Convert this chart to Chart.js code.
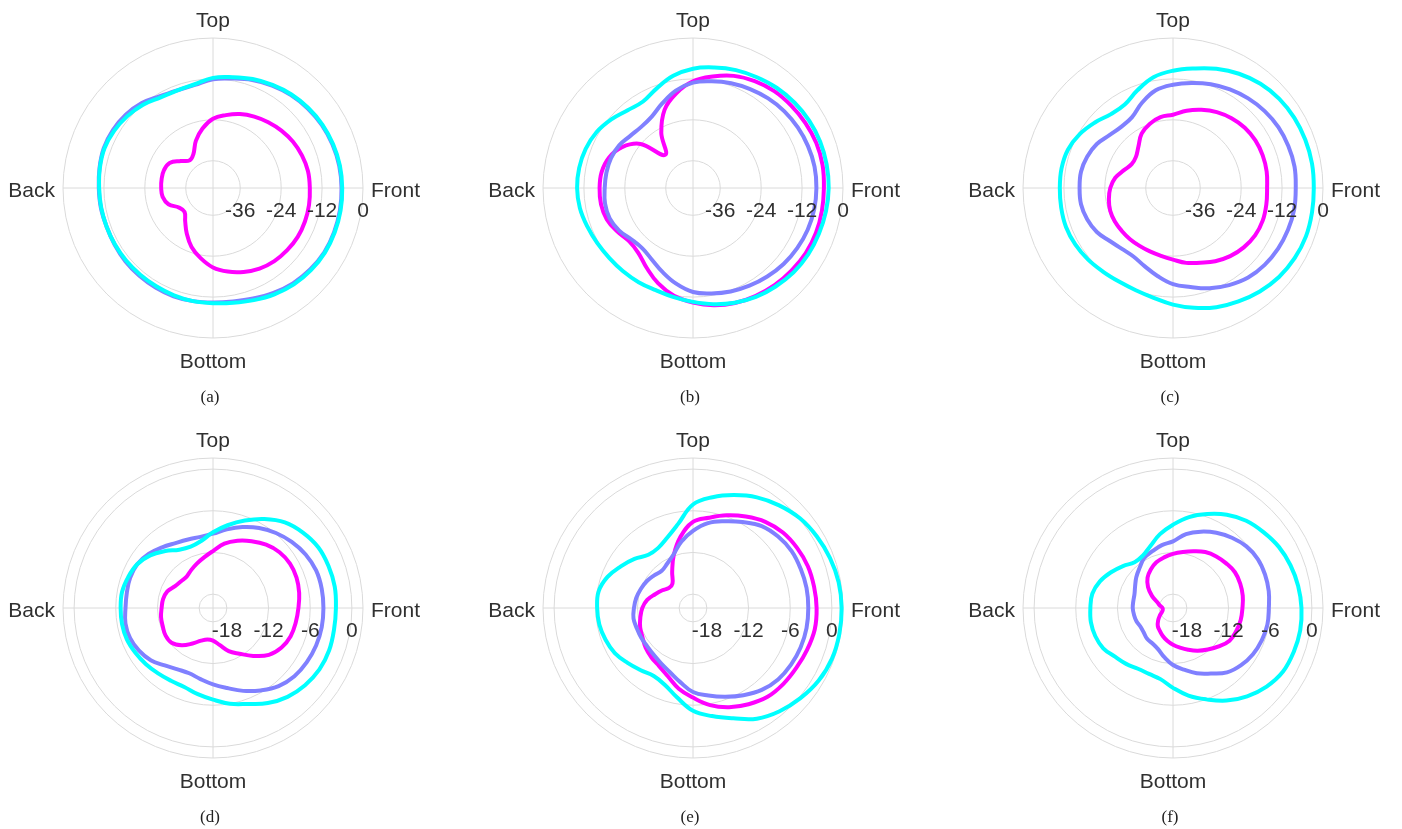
<!DOCTYPE html>
<html>
<head>
<meta charset="utf-8">
<script src="https://cdn.jsdelivr.net/npm/chart.js@4.4.1/dist/chart.umd.min.js"></script>
<style>
  html, body { margin: 0; padding: 0; background: #ffffff; }
  body { width: 1402px; height: 829px; overflow: hidden; position: relative; }
  canvas.polar { position: absolute; }
  .cap { position: absolute; width: 60px; margin-left: -30px; text-align: center;
         font-family: "Liberation Serif", "Times New Roman", serif; font-size: 17px;
         line-height: 20px; color: #222; }
</style>
</head>
<body>
<script>
// ---------------- data ----------------
// angles in degrees, clockwise from "Top"
const angles = [0,10,20,30,40,50,60,70,80,90,100,110,120,130,140,150,160,170,
                180,190,200,210,220,230,240,250,260,270,280,290,300,310,320,330,340,350];
const directionLabels = ['Top', 'Front', 'Bottom', 'Back'];
const captions = ['(a)', '(b)', '(c)', '(d)', '(e)', '(f)'];

// radial ranges (dB) and tick values per row
const row1Range = [-44, 0];
const row1Ticks = [-36, -24, -12, 0];
const row2Range = [-20, 1.6];
const row2Ticks = [-18, -12, -6, 0];

const seriesNames = ['cyan', 'blue', 'magenta'];
const seriesColors = ['#00ffff', '#8080ff', '#ff00ff'];

// (a)
const aCyan = [-11.7,-11.0,-10.0,-9.1,-8.2,-7.5,-6.9,-6.5,-6.2,-6.1,-6.0,-6.0,-6.1,-6.5,-7.1,-8.0,-9.0,-9.8,-10.2,-10.3,-10.5,-10.7,-10.8,-10.8,-10.8,-10.8,-10.7,-10.6,-10.3,-10.1,-10.5,-11.2,-12.1,-13.3,-13.5,-13.1];
const aBlue = [-12.1,-11.4,-10.3,-9.3,-8.4,-7.7,-7.1,-6.7,-6.4,-6.3,-6.2,-6.2,-6.3,-6.8,-7.5,-8.5,-9.5,-10.2,-10.4,-10.3,-10.2,-10.3,-10.4,-10.5,-10.7,-10.8,-10.6,-10.5,-10.2,-9.9,-10.1,-10.6,-11.5,-12.9,-13.5,-13.3];
const aMagenta = [-23.7,-22.3,-20.9,-19.8,-18.8,-17.8,-16.9,-16.2,-15.7,-15.6,-15.4,-15.3,-15.3,-15.6,-16.0,-16.7,-17.8,-19.1,-20.7,-23.1,-25.6,-28.6,-31.3,-33.1,-32.5,-30.1,-29.0,-28.8,-28.7,-28.7,-29.3,-31.7,-33.4,-32.5,-29.3,-26.3];
// (b)
const bCyan = [-9.0,-8.1,-7.2,-6.5,-5.7,-5.1,-4.6,-4.3,-4.2,-4.2,-4.4,-4.7,-5.0,-5.5,-6.3,-7.1,-8.2,-9.4,-10.6,-11.5,-12.1,-12.1,-12.1,-12.0,-11.6,-11.0,-10.3,-10.0,-10.1,-10.5,-11.3,-12.7,-14.2,-14.7,-12.9,-10.6];
const bBlue = [-13.1,-12.2,-11.3,-10.5,-9.7,-9.0,-8.5,-8.1,-7.8,-7.8,-7.9,-8.2,-8.7,-9.3,-10.1,-10.9,-11.7,-12.6,-13.5,-15.5,-17.8,-19.8,-20.9,-20.5,-19.0,-18.0,-17.8,-18.1,-18.2,-18.4,-19.0,-20.1,-20.5,-19.8,-17.6,-15.0];
const bMagenta = [-12.7,-10.8,-9.0,-7.8,-6.9,-6.4,-5.9,-5.5,-5.4,-5.6,-5.6,-5.6,-5.8,-6.3,-6.8,-7.4,-8.1,-9.1,-10.4,-11.9,-14.2,-16.9,-19.1,-19.6,-18.4,-17.1,-16.6,-16.6,-16.8,-17.8,-20.0,-23.9,-31.3,-25.4,-19.6,-15.8];
// (c)
const cCyan = [-9.6,-8.4,-6.8,-5.3,-4.1,-3.3,-2.9,-2.7,-2.6,-2.7,-2.6,-2.5,-2.8,-3.4,-4.4,-5.6,-6.8,-8.3,-9.8,-11.3,-12.1,-12.3,-12.0,-11.4,-10.9,-10.6,-10.7,-10.8,-10.8,-11.2,-12.4,-14.1,-15.7,-15.7,-13.5,-11.0];
const cBlue = [-13.7,-12.7,-11.6,-10.6,-9.7,-8.9,-8.3,-8.0,-7.8,-8.0,-7.9,-8.1,-8.4,-8.9,-9.7,-11.1,-12.7,-14.5,-15.8,-17.8,-19.6,-20.8,-20.7,-19.8,-18.2,-17.2,-16.6,-16.6,-16.6,-17.2,-18.2,-19.8,-20.5,-20.0,-17.4,-14.9];
const cMagenta = [-22.5,-21.0,-19.6,-18.3,-17.3,-16.5,-16.1,-16.0,-16.1,-16.4,-16.2,-16.0,-16.2,-16.9,-17.9,-19.2,-20.7,-21.7,-23.0,-23.8,-24.2,-24.4,-24.4,-24.4,-24.3,-24.4,-24.9,-25.6,-26.8,-28.7,-30.0,-29.8,-28.2,-25.6,-24.0,-22.9];
// (d)
const dCyan = [-9.1,-7.9,-6.6,-5.2,-3.9,-3.1,-2.5,-2.3,-2.2,-2.3,-2.3,-2.2,-2.3,-2.7,-3.3,-4.2,-5.3,-6.0,-6.8,-7.4,-7.9,-7.9,-7.7,-7.4,-7.1,-6.8,-6.7,-6.7,-6.7,-7.0,-7.4,-8.2,-9.3,-10.3,-10.6,-10.2];
const dBlue = [-9.3,-8.5,-7.6,-6.7,-5.9,-5.2,-4.6,-4.2,-4.1,-4.1,-4.1,-4.2,-4.4,-4.7,-5.3,-6.3,-7.3,-8.3,-9.0,-9.6,-10.0,-9.8,-9.2,-8.3,-7.7,-7.3,-7.2,-7.4,-7.4,-7.3,-7.4,-7.9,-8.6,-9.2,-9.5,-9.6];
const dMagenta = [-11.8,-10.6,-9.7,-8.9,-8.1,-7.5,-7.2,-7.2,-7.4,-7.7,-7.9,-8.1,-8.6,-9.5,-11.0,-12.4,-13.4,-14.6,-15.3,-15.4,-15.0,-14.1,-13.0,-12.2,-12.1,-12.3,-12.4,-12.6,-12.7,-13.0,-13.7,-14.0,-14.1,-13.7,-13.2,-12.6];
// (e)
const eCyan = [-5.1,-3.8,-2.7,-1.6,-0.7,0.1,0.6,1.0,1.3,1.4,1.4,1.3,0.9,0.2,-0.6,-1.6,-3.1,-4.2,-5.2,-6.9,-8.2,-8.7,-8.3,-7.7,-7.0,-6.6,-6.3,-6.2,-6.2,-6.9,-8.0,-9.0,-10.0,-10.0,-9.2,-7.7];
const eBlue = [-8.9,-7.6,-6.7,-5.7,-4.6,-4.0,-3.6,-3.5,-3.4,-3.4,-3.4,-3.5,-3.7,-4.0,-4.6,-5.5,-6.4,-7.2,-7.9,-9.2,-10.2,-10.8,-11.2,-11.4,-11.4,-11.4,-11.3,-11.5,-11.7,-12.0,-12.3,-12.7,-13.0,-12.6,-11.8,-10.3];
const eMagenta = [-7.6,-6.8,-5.8,-4.8,-3.8,-3.1,-2.7,-2.4,-2.3,-2.2,-2.2,-2.5,-2.8,-3.0,-3.3,-4.0,-4.8,-5.8,-7.1,-8.2,-9.5,-10.3,-10.7,-11.1,-11.6,-11.9,-12.3,-12.7,-13.3,-14.2,-14.9,-15.5,-15.4,-14.0,-11.9,-9.6];
// (f)
const fCyan = [-8.0,-6.7,-5.6,-4.5,-3.6,-3.0,-2.4,-2.0,-1.7,-1.5,-1.4,-1.5,-1.7,-2.4,-3.4,-4.6,-6.0,-7.2,-8.5,-9.6,-9.9,-9.9,-9.5,-9.1,-8.4,-8.1,-8.0,-8.1,-8.2,-8.8,-9.7,-10.6,-11.4,-11.3,-10.5,-9.2];
const fBlue = [-10.4,-9.2,-8.3,-7.5,-6.8,-6.2,-5.9,-5.9,-6.0,-6.2,-6.2,-6.4,-6.7,-7.2,-7.9,-9.1,-10.0,-11.0,-11.8,-12.8,-13.7,-14.1,-14.2,-14.5,-14.6,-14.4,-14.3,-14.2,-14.2,-14.1,-13.7,-13.1,-12.5,-11.7,-11.3,-10.8];
const fMagenta = [-12.2,-11.8,-11.3,-10.7,-10.3,-10.0,-9.7,-9.7,-9.8,-10.0,-10.1,-10.3,-10.6,-11.4,-12.2,-12.9,-13.6,-14.2,-14.7,-15.2,-15.7,-16.2,-16.6,-17.2,-17.8,-18.3,-18.5,-18.5,-18.1,-17.6,-16.5,-15.3,-14.3,-13.6,-13.0,-12.6];

// ---------------- layout / drawing ----------------
const panelSeries = [
  [aCyan, aBlue, aMagenta], [bCyan, bBlue, bMagenta], [cCyan, cBlue, cMagenta],
  [dCyan, dBlue, dMagenta], [eCyan, eBlue, eMagenta], [fCyan, fBlue, fMagenta]
];
const colCenters = [213, 693, 1173];
const rowCenters = [188, 608];
const CW = 480, CH = 420, PADX = 90, PADY = 60;
const GRID = '#dadada';
const TEXT = '#303030';
const FONT = '21px "Liberation Sans", Arial, Helvetica, sans-serif';

const polarText = {
  id: 'polarText',
  afterDraw(chart, args, opts) {
    const s = chart.scales.r;
    const ctx = chart.ctx;
    const R = s.drawingArea, xc = s.xCenter, yc = s.yCenter;
    ctx.save();
    ctx.fillStyle = TEXT;
    ctx.font = FONT;
    ctx.textBaseline = 'alphabetic';
    ctx.textAlign = 'center';
    ctx.fillText(directionLabels[0], xc, yc - R - 11);
    ctx.fillText(directionLabels[2], xc, yc + R + 30);
    ctx.textAlign = 'left';
    ctx.fillText(directionLabels[1], xc + R + 8, yc + 9);
    ctx.textAlign = 'right';
    ctx.fillText(directionLabels[3], xc - R - 8, yc + 9);
    ctx.textAlign = 'center';
    opts.ticks.forEach(v => {
      ctx.fillText(String(v), xc + s.getDistanceFromCenterForValue(v), yc + 29);
    });
    ctx.restore();
  }
};

panelSeries.forEach((series, p) => {
  const row = Math.floor(p / 3), col = p % 3;
  const cx = colCenters[col], cy = rowCenters[row];
  const range = row === 0 ? row1Range : row2Range;
  const tickVals = row === 0 ? row1Ticks : row2Ticks;
  const gridVals = [range[0]].concat(tickVals);
  if (gridVals[gridVals.length - 1] !== range[1]) gridVals.push(range[1]);

  const cv = document.createElement('canvas');
  cv.className = 'polar';
  cv.width = CW; cv.height = CH;
  cv.style.left = (cx - CW / 2) + 'px';
  cv.style.top = (cy - CH / 2) + 'px';
  document.body.appendChild(cv);

  const cap = document.createElement('div');
  cap.className = 'cap';
  cap.textContent = captions[p];
  cap.style.left = (cx - 3) + 'px';
  cap.style.top = (cy + 209 - 10) + 'px';
  document.body.appendChild(cap);

  new Chart(cv, {
    type: 'radar',
    data: {
      labels: angles,
      datasets: series.map((vals, i) => ({
        label: seriesNames[i],
        data: vals,
        borderColor: seriesColors[i],
        backgroundColor: seriesColors[i],
        borderWidth: 4,
        fill: false,
        tension: 0.4,
        pointRadius: 0,
        pointHoverRadius: 0
      }))
    },
    options: {
      responsive: false,
      animation: false,
      devicePixelRatio: 1,
      layout: { padding: { left: PADX, right: PADX, top: PADY, bottom: PADY } },
      plugins: {
        legend: { display: false },
        tooltip: { enabled: false },
        polarText: { ticks: tickVals }
      },
      scales: {
        r: {
          min: range[0],
          max: range[1],
          beginAtZero: false,
          afterBuildTicks: (axis) => { axis.ticks = gridVals.map(v => ({ value: v })); },
          ticks: { display: false },
          pointLabels: { display: false },
          grid: {
            circular: true,
            lineWidth: 1,
            color: (ctx) => ctx.index === 0 ? 'rgba(0,0,0,0)' : GRID
          },
          angleLines: {
            display: true,
            color: GRID,
            lineWidth: (ctx) => (ctx.index % 9 === 0 ? 1 : 0)
          }
        }
      }
    },
    plugins: [polarText]
  });
});
</script>
</body>
</html>
